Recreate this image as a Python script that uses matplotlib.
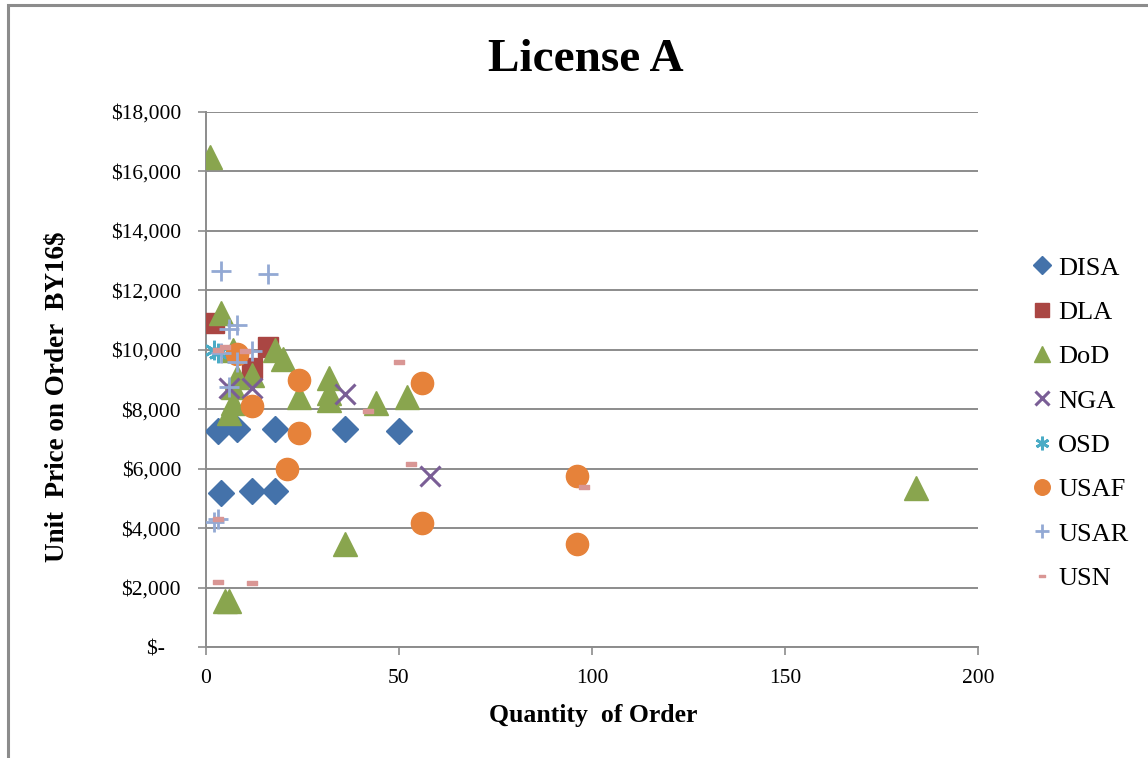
import matplotlib
matplotlib.use("Agg")
import matplotlib.pyplot as plt
from matplotlib.patches import Rectangle
from matplotlib.path import Path
from matplotlib.ticker import FuncFormatter

# Data (quantity, unit price BY16$)
disa_x = [3, 8, 18, 36, 50, 4, 12, 18]
disa_y = [7270, 7350, 7350, 7350, 7270, 5180, 5250, 5250]
dla_x = [2, 16, 12]
dla_y = [10900, 10100, 9400]
dod_x = [1, 4, 7, 18, 20, 8, 12, 7, 7, 6, 24, 32, 32, 32, 44, 52, 36, 5, 6, 184]
dod_y = [16500, 11250, 10000, 10000, 9700, 9100, 9150, 8750, 8200, 7870, 8400, 9050, 8550, 8300,
         8200, 8400, 3450, 1550, 1550, 5350]
nga_x = [6, 12, 36, 58]
nga_y = [8700, 8700, 8500, 5750]
osd_x = [2, 3]
osd_y = [10000, 9900]
usaf_x = [8, 24, 12, 24, 56, 21, 56, 96, 96]
usaf_y = [9850, 8980, 8100, 7200, 8900, 5980, 4180, 5750, 3470]
usar_x = [4, 16, 6, 8, 4, 8, 12, 6, 3, 2]
usar_y = [12650, 12550, 10700, 10850, 9900, 9600, 9950, 8750, 4300, 4200]
usn_x = [3, 5, 10, 50, 42, 53, 98, 3, 12, 3]
usn_y = [10000, 10100, 9950, 9600, 7950, 6150, 5400, 2200, 2150, 4300]

x_ticks = [0, 50, 100, 150, 200]
y_ticks = list(range(0, 18001, 2000))

plt.rcParams['font.family'] = ['Liberation Serif', 'DejaVu Serif']

fig = plt.figure(figsize=(11.48, 7.58), dpi=100)
ax = fig.add_axes([0.1794, 0.1464, 0.6725, 0.7058])

dash = Path([(-1, -0.35), (1, -0.35), (1, 0.35), (-1, 0.35), (-1, -0.35)],
            [Path.MOVETO, Path.LINETO, Path.LINETO, Path.LINETO, Path.CLOSEPOLY])

series = [
    ("DISA", disa_x, disa_y, dict(marker="D", color="#4472AA", markersize=13)),
    ("DLA", dla_x, dla_y, dict(marker="s", color="#AA4643", markersize=15)),
    ("DoD", dod_x, dod_y, dict(marker="^", color="#89A54E", markersize=17)),
    ("NGA", nga_x, nga_y, dict(marker="x", color="#7A5E96", markersize=15, markeredgewidth=2.2)),
    ("OSD", osd_x, osd_y, dict(marker=(6, 2, 0), color="#4BACC6", markersize=14, markeredgewidth=2)),
    ("USAF", usaf_x, usaf_y, dict(marker="o", color="#E6823A", markersize=16)),
    ("USAR", usar_x, usar_y, dict(marker="+", color="#93A9D4", markersize=15, markeredgewidth=2)),
    ("USN", usn_x, usn_y, dict(marker=dash, color="#D99694", markersize=7)),
]
for name, xs, ys, kw in series:
    ax.plot(xs, ys, linestyle="none", label=name, zorder=3, **kw)

ax.set_xlim(0, 200)
ax.set_ylim(0, 18000)
ax.set_xticks(x_ticks)
ax.set_yticks(y_ticks)
ax.yaxis.set_major_formatter(FuncFormatter(lambda v, p: "$-   " if v == 0 else "${:,.0f}".format(v)))
ax.grid(axis="y", color="#8C8C8C", linewidth=1.4, zorder=0)
for s in ["top", "right"]:
    ax.spines[s].set_visible(False)
for s in ["left", "bottom"]:
    ax.spines[s].set_color("#8C8C8C")
    ax.spines[s].set_linewidth(1.4)
ax.tick_params(axis="both", colors="#8C8C8C", labelcolor="black", labelsize=15.5, length=6, width=1.2)
ax.tick_params(axis="y", pad=12)
ax.tick_params(axis="x", pad=10)

fig.text(0.5105, 0.921, "License A", ha="center", va="center", fontsize=34, fontweight="bold")
fig.text(0.5166, 0.056, "Quantity  of Order", ha="center", va="center", fontsize=18.5, fontweight="bold")
fig.text(0.0505, 0.476, "Unit  Price on Order  BY16$", ha="center", va="center", rotation=90,
         fontsize=19.5, fontweight="bold")

fig.legend(loc="upper left", bbox_to_anchor=(0.9, 0.662), frameon=False, fontsize=19,
           handlelength=0.7, handletextpad=0.25, labelspacing=0.79, markerscale=0.7,
           borderpad=0, borderaxespad=0)

# chart-area border
fig.patches.append(Rectangle((8 / 1148, -0.1), 1.2, 1.1 - 5 / 758, transform=fig.transFigure,
                             fill=False, edgecolor="#8C8C8C", linewidth=2.2))

fig.savefig("out.png", dpi=100)
